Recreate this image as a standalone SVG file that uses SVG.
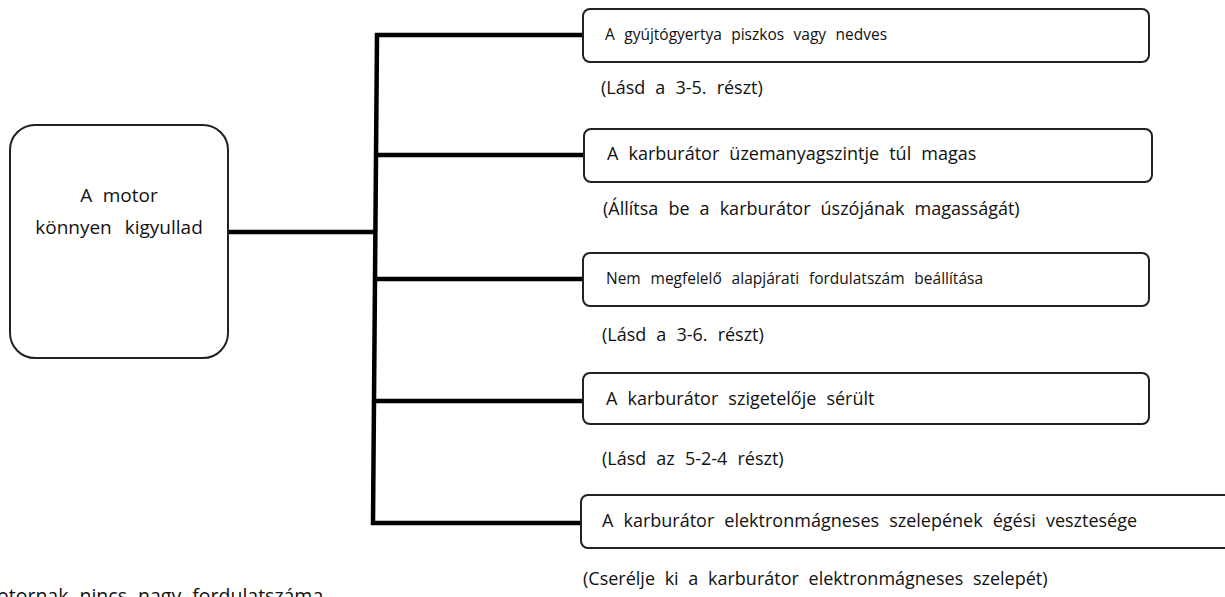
<svg xmlns="http://www.w3.org/2000/svg" width="1225" height="597" viewBox="0 0 1225 597">
<style>
  text { font-family: "Open Sans", "Noto Sans", "DejaVu Sans", sans-serif; fill: #111; word-spacing: 5.4px; }
  .box { fill: #fff; stroke: #222; stroke-width: 2; }
  .conn { fill: none; stroke: #000; stroke-width: 4.5; stroke-linejoin: miter; }
  .big { font-size: 19px; }
  .t18 { font-size: 18px; }
  .t15 { font-size: 15.5px; }
  .ann { font-size: 18px; }
</style>
<rect width="1225" height="597" fill="#fff"/>
<g id="connectors">
  <polyline class="conn" points="582,35 377,35 373,523 581,523"/>
  <line class="conn" x1="229" y1="232" x2="375" y2="232"/>
  <line class="conn" x1="376" y1="155" x2="584" y2="155"/>
  <line class="conn" x1="375" y1="279" x2="583" y2="279"/>
  <line class="conn" x1="374" y1="401" x2="583" y2="401"/>
</g>
<g id="root">
  <rect class="box" x="10" y="125" width="218" height="233" rx="25" ry="25"/>
  <text class="big" x="119" y="202" text-anchor="middle">A motor</text>
  <text class="big" x="119" y="234" text-anchor="middle" style="word-spacing:8px">könnyen kigyullad</text>
</g>
<g id="cause1">
  <rect class="box" x="583" y="9" width="566" height="53" rx="7" ry="7"/>
  <text class="t15" x="605" y="40">A gyújtógyertya piszkos vagy nedves</text>
</g>
<g id="note1">
  <text class="ann" x="601" y="94">(Lásd a 3-5. részt)</text>
</g>
<g id="cause2">
  <rect class="box" x="584" y="129" width="568" height="53" rx="7" ry="7"/>
  <text class="t18" x="607" y="160">A karburátor üzemanyagszintje túl magas</text>
</g>
<g id="note2">
  <text class="ann" x="603" y="215">(Állítsa be a karburátor úszójának magasságát)</text>
</g>
<g id="cause3">
  <rect class="box" x="583" y="253" width="566" height="53" rx="7" ry="7"/>
  <text class="t15" x="606" y="284" style="word-spacing:5.8px">Nem megfelelő alapjárati fordulatszám beállítása</text>
</g>
<g id="note3">
  <text class="ann" x="602" y="341">(Lásd a 3-6. részt)</text>
</g>
<g id="cause4">
  <rect class="box" x="583" y="373" width="566" height="51" rx="7" ry="7"/>
  <text class="t18" x="606" y="405">A karburátor szigetelője sérült</text>
</g>
<g id="note4">
  <text class="ann" x="602" y="465">(Lásd az 5-2-4 részt)</text>
</g>
<g id="cause5">
  <rect class="box" x="581" y="495" width="660" height="53" rx="7" ry="7"/>
  <text class="t18" x="602" y="527">A karburátor elektronmágneses szelepének égési vesztesége</text>
</g>
<g id="note5">
  <text class="ann" x="583" y="585" style="word-spacing:5px">(Cserélje ki a karburátor elektronmágneses szelepét)</text>
</g>
<g id="other">
  <text x="-3" y="603" style="font-size:19.5px; word-spacing:6px">otornak nincs nagy fordulatszáma</text>
</g>
</svg>
